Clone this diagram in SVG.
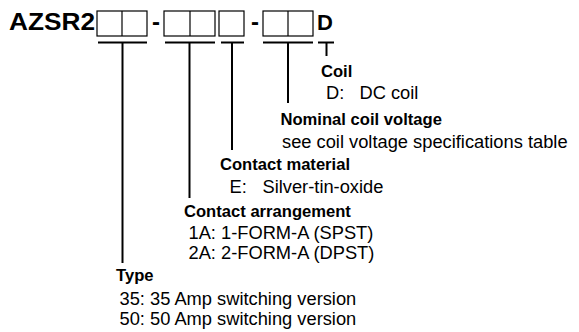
<svg xmlns="http://www.w3.org/2000/svg" width="579" height="332" viewBox="0 0 579 332">
<style>
.code{font-family:"Liberation Sans",Arial,sans-serif;font-weight:bold;font-size:24px;fill:#000}
.lbl{font-family:"Liberation Sans",Arial,sans-serif;font-weight:bold;font-size:16.6px;fill:#000}
.txt{font-family:"Liberation Sans",Arial,sans-serif;font-size:18.3px;fill:#000}
.box{fill:none;stroke:#000;stroke-width:1.2}
.conn line{stroke:#000;stroke-width:2;fill:none}
</style>
<rect width="579" height="332" fill="#fff"/>
<g id="code">
<text class="code" x="9" y="29.5" textLength="86" lengthAdjust="spacingAndGlyphs">AZSR2</text>
<rect class="box" x="97" y="11" width="50" height="25"/>
<line class="box" x1="122" y1="11" x2="122" y2="36"/>
<text class="code" x="152" y="29.5">-</text>
<rect class="box" x="164" y="11" width="51" height="25"/>
<line class="box" x1="190" y1="11" x2="190" y2="36"/>
<rect class="box" x="219" y="11" width="25" height="25"/>
<text class="code" x="251" y="29.5">-</text>
<rect class="box" x="263" y="11" width="50" height="25"/>
<line class="box" x1="288" y1="11" x2="288" y2="36"/>
<text class="code" x="317" y="29.5" style="font-size:22px">D</text>
</g>
<g id="connectors" class="conn">
<line x1="98" y1="42.5" x2="147" y2="42.5"/>
<line x1="122.5" y1="42.5" x2="122.5" y2="263"/>
<line x1="165" y1="42.5" x2="215" y2="42.5"/>
<line x1="189.5" y1="42.5" x2="189.5" y2="198"/>
<line x1="221" y1="42.5" x2="244" y2="42.5"/>
<line x1="232" y1="42.5" x2="232" y2="150"/>
<line x1="263" y1="42.5" x2="313" y2="42.5"/>
<line x1="288" y1="42.5" x2="288" y2="103"/>
<line x1="318" y1="42.5" x2="334" y2="42.5"/>
<line x1="326.5" y1="42.5" x2="326.5" y2="56"/>
</g>
<g id="coil">
<text class="lbl" x="321" y="77">Coil</text>
<text class="txt" y="99"><tspan x="326">D:</tspan><tspan x="359.5">DC coil</tspan></text>
</g>
<g id="nominal-coil-voltage">
<text class="lbl" x="280.5" y="125">Nominal coil voltage</text>
<text class="txt" x="282" y="147.5">see coil voltage specifications table</text>
</g>
<g id="contact-material">
<text class="lbl" x="220" y="170">Contact material</text>
<text class="txt" y="192.5"><tspan x="229.5">E:</tspan><tspan x="262.5">Silver-tin-oxide</tspan></text>
</g>
<g id="contact-arrangement">
<text class="lbl" x="184" y="216.5">Contact arrangement</text>
<text class="txt" x="188.5" y="238.5">1A: 1-FORM-A (SPST)</text>
<text class="txt" x="188.5" y="258.5">2A: 2-FORM-A (DPST)</text>
</g>
<g id="type">
<text class="lbl" x="116" y="281">Type</text>
<text class="txt" x="119.5" y="305">35: 35 Amp switching version</text>
<text class="txt" x="119.5" y="325">50: 50 Amp switching version</text>
</g>
</svg>
